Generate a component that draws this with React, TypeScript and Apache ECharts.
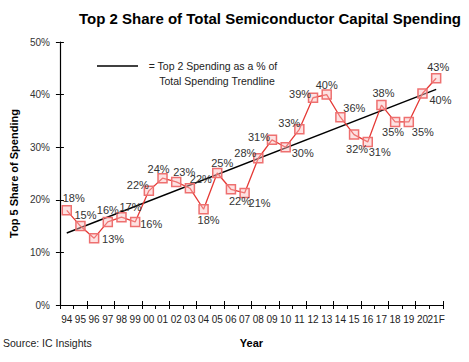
import React, { useEffect, useRef } from "react";
import * as echarts from "echarts";

const years = ["94","95","96","97","98","99","00","01","02","03","04","05","06","07","08","09","10","11","12","13","14","15","16","17","18","19","20","21F"];
const topShare = [18.0,15.0,12.7,15.8,16.7,15.8,21.7,24.1,23.4,22.2,18.2,25.1,22.0,21.3,27.9,31.4,30.0,33.4,39.4,40.0,35.7,32.4,31.0,38.0,34.8,34.8,40.2,43.1];
const trendStart = 13.7;
const trendEnd = 41.0;
const yTicks = [0, 10, 20, 30, 40, 50];

// label placement (dx, dy) relative to each point
const labelOffsets: [number, number][] = [
  [7,-12],[5,-11],[19,1],[0,-12],[9,-10],[16,2],[-11,-6],[-4,-9],[8,-10],[11,-9],
  [5,11],[5,-10],[9,12],[15,10],[-13,-5],[-13,-3],[17,6],[-10,-6],[-13,-4],[0,-10],
  [14,-9],[3,14],[12,10],[2,-12],[-2,10],[14,10],[18,6],[2,-11],
];

const FONT = "Liberation Sans";

export default function App() {
  const ref = useRef<HTMLDivElement>(null);
  useEffect(() => {
    if (!ref.current) return;
    document.body.style.margin = "0";
    const chart = echarts.init(ref.current, null, { renderer: "svg" });
    const trend = years.map((_, i) => (i === 0 ? trendStart : i === years.length - 1 ? trendEnd : null));
    const yMax = yTicks[yTicks.length - 1];
    const yInt = yTicks[1] - yTicks[0];
    chart.setOption({
      animation: false,
      backgroundColor: "#fff",
      textStyle: { fontFamily: FONT },
      title: {
        text: "Top 2 Share of Total Semiconductor Capital Spending",
        right: 3,
        top: 6,
        textStyle: { fontFamily: FONT, fontSize: 15, fontWeight: "bold", color: "#000" },
      },
      grid: { left: 53, right: 26, top: 42, bottom: 57, containLabel: false },
      xAxis: [
        {
          type: "category",
          data: years,
          boundaryGap: true,
          name: "Year",
          nameLocation: "middle",
          nameGap: 32,
          nameTextStyle: { fontFamily: FONT, fontSize: 11, fontWeight: "bold", color: "#000" },
          axisLine: { lineStyle: { color: "#000", width: 1.2 } },
          axisTick: { show: true, inside: false, length: 4, alignWithLabel: false, lineStyle: { color: "#000" } },
          axisLabel: { interval: 0, fontSize: 10, color: "#222", margin: 9, fontFamily: FONT },
          splitLine: { show: false },
        },
        {
          type: "category",
          data: years,
          boundaryGap: true,
          position: "bottom",
          axisLine: { show: false },
          axisTick: { show: true, inside: true, length: 4, lineStyle: { color: "#000" } },
          axisLabel: { show: false },
          splitLine: { show: false },
        },
      ],
      yAxis: [
        {
          type: "value",
          min: 0,
          max: yMax,
          interval: yInt,
          name: "Top 5 Share of Spending",
          nameLocation: "middle",
          nameGap: 38,
          nameTextStyle: { fontFamily: FONT, fontSize: 11, fontWeight: "bold", color: "#000" },
          axisLine: { show: true, lineStyle: { color: "#000", width: 1.2 } },
          axisTick: { show: true, inside: false, length: 4, lineStyle: { color: "#000" } },
          axisLabel: { formatter: "{value}%", fontSize: 10, color: "#333", margin: 10, fontFamily: FONT },
          splitLine: { show: false },
        },
        {
          type: "value",
          min: 0,
          max: yMax,
          interval: yInt,
          position: "left",
          axisLine: { show: false },
          axisTick: { show: true, inside: true, length: 4, lineStyle: { color: "#000" } },
          axisLabel: { show: false },
          splitLine: { show: false },
        },
      ],
      series: [
        {
          type: "line",
          name: "trend",
          data: trend,
          connectNulls: true,
          symbol: "none",
          lineStyle: { color: "#000", width: 1.5 },
          z: 3,
        },
        {
          type: "line",
          name: "share",
          data: topShare.map((v, i) => ({
            value: v,
            label: { offset: labelOffsets[i] },
          })),
          symbol: "rect",
          symbolSize: 9,
          itemStyle: { color: "rgba(250,190,190,0.45)", borderColor: "#ee7070", borderWidth: 1.5 },
          lineStyle: { color: "#e53935", width: 1.3 },
          label: {
            show: true,
            position: "inside",
            formatter: (p: any) => Math.round(p.value) + "%",
            fontSize: 11,
            color: "#333",
            fontFamily: FONT,
          },
          z: 4,
        },
      ],
      graphic: [
        {
          type: "line",
          shape: { x1: 97, y1: 66, x2: 138, y2: 66 },
          style: { stroke: "#000", lineWidth: 1.5 },
        },
        {
          type: "text",
          x: 213,
          y: 66,
          style: { text: "= Top 2 Spending as a % of", fontSize: 10.5, fontFamily: FONT, fill: "#222", textAlign: "center", textVerticalAlign: "middle" },
        },
        {
          type: "text",
          x: 217,
          y: 81,
          style: { text: "Total Spending Trendline", fontSize: 10.5, fontFamily: FONT, fill: "#222", textAlign: "center", textVerticalAlign: "middle" },
        },
        {
          type: "text",
          x: 3,
          y: 343,
          style: { text: "Source: IC Insights", fontSize: 10.5, fontFamily: FONT, fill: "#222", textAlign: "left", textVerticalAlign: "middle" },
        },
      ],
    });
    return () => chart.dispose();
  }, []);
  return <div ref={ref} style={{ width: 469, height: 362 }} />;
}
